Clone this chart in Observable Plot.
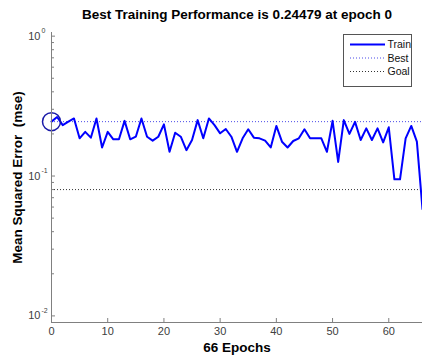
<!DOCTYPE html>
<html><head><meta charset="utf-8">
<script src="https://cdn.jsdelivr.net/npm/d3@7"></script>
<script src="https://cdn.jsdelivr.net/npm/@observablehq/plot@0.6"></script>
<style>
body{margin:0;background:#fff;}
#wrap{position:relative;width:422px;height:357px;overflow:hidden;}
#legend{position:absolute;left:0;top:0;}
</style></head><body><div id="wrap"></div>
<script>
// ---- data ----
const epochs = d3.range(0, 67);
const trainMSE = [
  0.2448, 0.264, 0.231, 0.245, 0.258, 0.186, 0.207, 0.188, 0.258, 0.160,
  0.207, 0.183, 0.183, 0.248, 0.183, 0.191, 0.258, 0.191, 0.179, 0.191,
  0.234, 0.149, 0.204, 0.191, 0.153, 0.181, 0.251, 0.186, 0.258, 0.231,
  0.202, 0.217, 0.191, 0.149, 0.186, 0.216, 0.188, 0.186, 0.179, 0.160,
  0.228, 0.176, 0.160, 0.178, 0.186, 0.216, 0.186, 0.186, 0.186, 0.149,
  0.248, 0.126, 0.251, 0.200, 0.244, 0.181, 0.219, 0.181, 0.219, 0.174,
  0.223, 0.0947, 0.0947, 0.186, 0.228, 0.176, 0.058
];
const bestEpoch = 0;
const bestValue = 0.24479;
const goalValue = 0.08;
const xTicks = [0, 10, 20, 30, 40, 50, 60];
const yMajor = [1, 0.1, 0.01];
const yExp = ["0", "-1", "-2"];
const yMinor = [0.02,0.03,0.04,0.05,0.06,0.07,0.08,0.09,0.2,0.3,0.4,0.5,0.6,0.7,0.8,0.9];
const xDomain = [0, 66];
const yDomain = [0.00897, 1.062];
const titleText = "Best Training Performance is 0.24479 at epoch 0";
const xLabel = "66 Epochs";
const yLabel = "Mean Squared Error  (mse)";
const legendItems = ["Train", "Best", "Goal"];

// ---- chart ----
const W = 422, H = 357, mT = 32, mB = 35, mL = 51, mR = 0;
const frameW = W - mL - mR, frameH = H - mT - mB;
const rows = epochs.map((e, i) => ({epoch: e, mse: trainMSE[i]}));
const axisGray = "#808080", textGray = "#404040";
const font = "Liberation Sans, Arial, Helvetica, sans-serif";

const chart = Plot.plot({
  width: W, height: H,
  marginTop: mT, marginBottom: mB, marginLeft: mL, marginRight: mR,
  style: {fontFamily: font, fontSize: "11px", background: "#fff", color: textGray},
  x: {domain: xDomain},
  y: {type: "log", domain: yDomain, axis: null},
  marks: [
    Plot.ruleY([bestValue], {stroke: "#4a4ae8", strokeDasharray: "1,2", strokeWidth: 1}),
    Plot.ruleY([goalValue], {stroke: "#333", strokeDasharray: "1,2", strokeWidth: 1}),
    Plot.line(rows, {x: "epoch", y: "mse", stroke: "#0000ff", strokeWidth: 2}),
    Plot.dot([{epoch: bestEpoch, mse: bestValue}], {x: "epoch", y: "mse", r: 9, stroke: "#1a1aa8", strokeWidth: 1.5, fill: "none"}),
    Plot.ruleX([xDomain[0]], {stroke: axisGray}),
    Plot.ruleY([yDomain[0]], {stroke: axisGray}),
    Plot.tickX(xTicks, {x: d => d, insetTop: frameH - 4, stroke: axisGray}),
    Plot.tickY(yMajor, {y: d => d, insetRight: frameW - 4, stroke: axisGray}),
    Plot.tickY(yMinor, {y: d => d, insetRight: frameW - 3, stroke: axisGray}),
    Plot.axisX(xTicks, {tickSize: 0, tickPadding: 5, tickFormat: d => String(d), label: null, fill: textGray, fontSize: 11}),
    Plot.text(yMajor, {y: d => d, frameAnchor: "left", text: () => "10", textAnchor: "end", lineAnchor: "middle", dx: -11, fontSize: 11, fill: textGray}),
    Plot.text(yMajor, {y: d => d, frameAnchor: "left", text: (d, i) => yExp[i], textAnchor: "start", lineAnchor: "middle", dx: -10, dy: -5, fontSize: 7, fill: textGray}),
    Plot.text([titleText], {text: d => d, frameAnchor: "top", textAnchor: "middle", lineAnchor: "middle", dy: -18, fontSize: 13.5, fontWeight: "bold", fill: "#000"}),
    Plot.text([xLabel], {text: d => d, frameAnchor: "bottom", textAnchor: "middle", lineAnchor: "middle", dy: 25, fontSize: 13.5, fontWeight: "bold", fill: "#000"}),
    Plot.text([yLabel], {text: d => d, frameAnchor: "left", textAnchor: "middle", lineAnchor: "middle", dx: -34, rotate: -90, fontSize: 13.5, fontWeight: "bold", fill: "#000"})
  ]
});
const wrap = document.getElementById("wrap");
wrap.appendChild(chart);

// ---- legend overlay ----
const lg = d3.select(wrap).append("svg").attr("id", "legend").attr("width", W).attr("height", H)
  .style("font-family", font);
lg.append("rect").attr("x", 343.5).attr("y", 34.5).attr("width", 68).attr("height", 52)
  .attr("fill", "#fff").attr("stroke", "#555");
const styles = [
  {stroke: "#0000ff", width: 2, dash: null},
  {stroke: "#4a4ae8", width: 1, dash: "1,2"},
  {stroke: "#333", width: 1, dash: "1,2"}
];
legendItems.forEach((name, i) => {
  const y = 44.5 + i * 13.5;
  lg.append("line").attr("x1", 350).attr("x2", 385).attr("y1", y).attr("y2", y)
    .attr("stroke", styles[i].stroke).attr("stroke-width", styles[i].width)
    .attr("stroke-dasharray", styles[i].dash);
  lg.append("text").attr("x", 387.5).attr("y", y).attr("dy", "0.35em")
    .attr("font-size", 10.5).attr("fill", "#111").text(name);
});
</script></body></html>
